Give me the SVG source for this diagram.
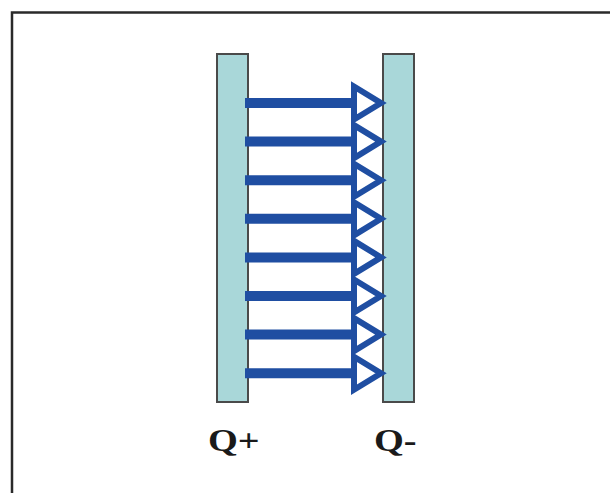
<svg xmlns="http://www.w3.org/2000/svg" width="610" height="493" viewBox="0 0 610 493">
<style>
.plate{fill:#a9d7d9;stroke:#4a4a4a;stroke-width:2}
.shaft{stroke:#1f4ea2;stroke-width:10;fill:none}
.head{fill:#ffffff;stroke:#1f4ea2;stroke-width:6;stroke-linejoin:miter}
.lbl{font-family:"Liberation Serif","Times New Roman",serif;font-weight:bold;font-size:32px;fill:#1a1a1a}
</style>
<rect width="610" height="493" fill="#ffffff"/>
<path d="M12 494 V12.5 H612" fill="none" stroke="#2a2a2a" stroke-width="2.5"/>
<g id="plate-positive"><rect class="plate" x="217" y="54" width="31" height="348"/></g>
<g id="plate-negative"><rect class="plate" x="383" y="54" width="31" height="348"/></g>
<g id="connectors">
<g transform="translate(0,103)"><line class="shaft" x1="245" y1="0" x2="356" y2="0"/><path class="head" d="M354 -16.5 L381 0 L354 16.5 Z"/></g>
<g transform="translate(0,141.6)"><line class="shaft" x1="245" y1="0" x2="356" y2="0"/><path class="head" d="M354 -16.5 L381 0 L354 16.5 Z"/></g>
<g transform="translate(0,180.2)"><line class="shaft" x1="245" y1="0" x2="356" y2="0"/><path class="head" d="M354 -16.5 L381 0 L354 16.5 Z"/></g>
<g transform="translate(0,218.8)"><line class="shaft" x1="245" y1="0" x2="356" y2="0"/><path class="head" d="M354 -16.5 L381 0 L354 16.5 Z"/></g>
<g transform="translate(0,257.4)"><line class="shaft" x1="245" y1="0" x2="356" y2="0"/><path class="head" d="M354 -16.5 L381 0 L354 16.5 Z"/></g>
<g transform="translate(0,296)"><line class="shaft" x1="245" y1="0" x2="356" y2="0"/><path class="head" d="M354 -16.5 L381 0 L354 16.5 Z"/></g>
<g transform="translate(0,334.6)"><line class="shaft" x1="245" y1="0" x2="356" y2="0"/><path class="head" d="M354 -16.5 L381 0 L354 16.5 Z"/></g>
<g transform="translate(0,373.2)"><line class="shaft" x1="245" y1="0" x2="356" y2="0"/><path class="head" d="M354 -16.5 L381 0 L354 16.5 Z"/></g>
</g>
<g id="label-positive"><text class="lbl" transform="translate(208,451) scale(1.2,1)">Q+</text></g>
<g id="label-negative"><text class="lbl" transform="translate(374,451) scale(1.2,1)">Q-</text></g>
</svg>
